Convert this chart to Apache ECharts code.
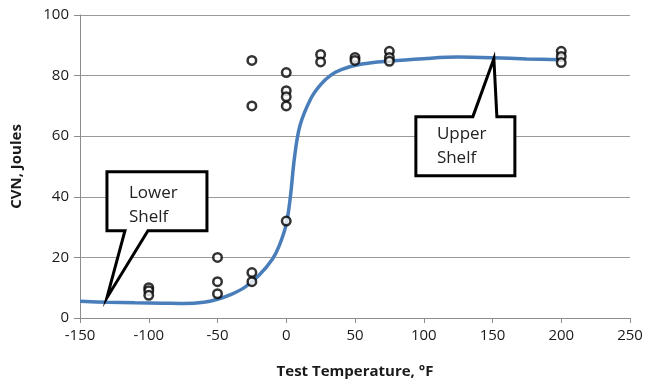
<!DOCTYPE html>
<html>
<head>
<meta charset="utf-8">
<script src="https://cdn.jsdelivr.net/npm/echarts@6/dist/echarts.min.js"></script>
<style>
	html, body { margin: 0; padding: 0; background: #fff; }
	#main { width: 646px; height: 384px; }
</style>
</head>
<body>
<div id="main"></div>
<script>
// test data: temperature (F) and CVN (J)
var testTemps = [-100, -100, -100, -50, -50, -50, -25, -25, -25, -25, 0, 0, 0, 0, 0,
	25, 25, 50, 50, 75, 75, 75, 200, 200, 200];
var testCvn = [10, 9, 7.5, 20, 12, 8, 15, 12, 85, 70, 32, 81, 75, 73, 70,
	87, 84.5, 86, 85, 88, 86, 84.7, 88, 86.3, 84.3];

// fitted curve
var curveTemps = [-150, -130, -110, -90, -75, -60, -50, -40, -30, -20, -10, -5, 0, 3, 6, 10,
	18, 25, 32, 40, 55, 75, 100, 125, 150, 175, 200];
var curveCvn = [5.5, 5.2, 5.0, 4.9, 4.8, 5.2, 6.2, 7.8, 10.2, 14, 19.5, 24, 31, 40, 53, 63.5,
	72.5, 77, 80, 82, 83.8, 84.8, 85.6, 86.1, 85.9, 85.5, 85.2];

var xTicks = [-150, 250, 50];
var yTicks = [0, 100, 20];

// callouts: text and tip position in data coords
var callouts = [
	{ lines: ['Lower', 'Shelf'], tip: [-130.4, 6.7] },
	{ lines: ['Upper', 'Shelf'], tip: [151, 85.6] }
];

var pairs = function(xs, ys) {
	var out = [];
	for (var i = 0; i < xs.length; i++) {
		out.push([xs[i], ys[i]]);
	}
	return out;
};

var myChart = echarts.init(document.getElementById('main'));
var font = 'Open Sans';

var option = {
	animation : false,
	grid : { left : 80, right : 16, top : 15, bottom : 65 },
	xAxis : {
		type : 'value',
		min : xTicks[0], max : xTicks[1], interval : xTicks[2],
		name : 'Test Temperature, \u00b0F',
		nameLocation : 'middle',
		nameGap : 46,
		nameTextStyle : { fontFamily : font, fontWeight : 'bold', fontSize : 15, color : '#1a1a1a' },
		axisLine : { show : true, onZero : false, lineStyle : { color : '#8c8c8c', width : 1 } },
		axisTick : { show : true, length : 5, lineStyle : { color : '#8c8c8c' } },
		axisLabel : { fontFamily : font, fontSize : 15, color : '#1a1a1a', margin : 10 },
		splitLine : { show : false }
	},
	yAxis : {
		type : 'value',
		min : yTicks[0], max : yTicks[1], interval : yTicks[2],
		name : 'CVN, Joules',
		nameLocation : 'middle',
		nameGap : 56,
		nameTextStyle : { fontFamily : font, fontWeight : 'bold', fontSize : 15, color : '#1a1a1a' },
		axisLine : { show : true, onZero : false, lineStyle : { color : '#8c8c8c', width : 1 } },
		axisTick : { show : true, length : 6, lineStyle : { color : '#8c8c8c' } },
		axisLabel : { fontFamily : font, fontSize : 15, color : '#1a1a1a', margin : 11 },
		splitLine : { show : true, lineStyle : { color : '#9a9a9a', width : 1 } }
	},
	series : [ {
		name : 'curve',
		type : 'line',
		data : pairs(curveTemps, curveCvn),
		smooth : 0.35,
		symbol : 'none',
		lineStyle : { color : '#4a7ebb', width : 3.5 },
		z : 2
	}, {
		name : 'tests',
		type : 'scatter',
		data : pairs(testTemps, testCvn),
		symbol : 'circle',
		symbolSize : 8.5,
		itemStyle : { color : '#fff', borderColor : '#000', borderWidth : 2.5 },
		z : 3
	} ]
};
myChart.setOption(option);

// callout shapes, anchored on the tip point
function calloutShape(c, idx) {
	var p = myChart.convertToPixel({ gridIndex : 0 }, c.tip);
	var pts, tx, ty;
	if (idx == 0) {
		// box above right of tip, pointer from bottom edge
		var l = p[0], t = p[1] - 126, r = p[0] + 100, b = p[1] - 67;
		pts = [[l, t], [r, t], [r, b], [p[0] + 41, b], [p[0], p[1]], [p[0] + 18, b], [l, b]];
		tx = l + 22; ty = t + 9;
	} else {
		// box below left of tip, pointer from top edge
		var l = p[0] - 78, t = p[1] + 58, r = p[0] + 21, b = p[1] + 117;
		pts = [[l, t], [p[0] - 21, t], [p[0], p[1]], [p[0] + 3, t], [r, t], [r, b], [l, b]];
		tx = l + 21; ty = t + 6;
	}
	return [ {
		type : 'polygon',
		shape : { points : pts },
		style : { fill : '#fff', stroke : '#000', lineWidth : 3, lineJoin : 'miter' },
		z : 10
	}, {
		type : 'text',
		x : tx, y : ty,
		style : { text : c.lines.join('\n'), font : '17px "Open Sans"', fill : '#222', lineHeight : 24 },
		z : 11
	} ];
}

var elements = [];
for (var i = 0; i < callouts.length; i++) {
	elements = elements.concat(calloutShape(callouts[i], i));
}
myChart.setOption({ graphic : { elements : elements } });
</script>
</body>
</html>
